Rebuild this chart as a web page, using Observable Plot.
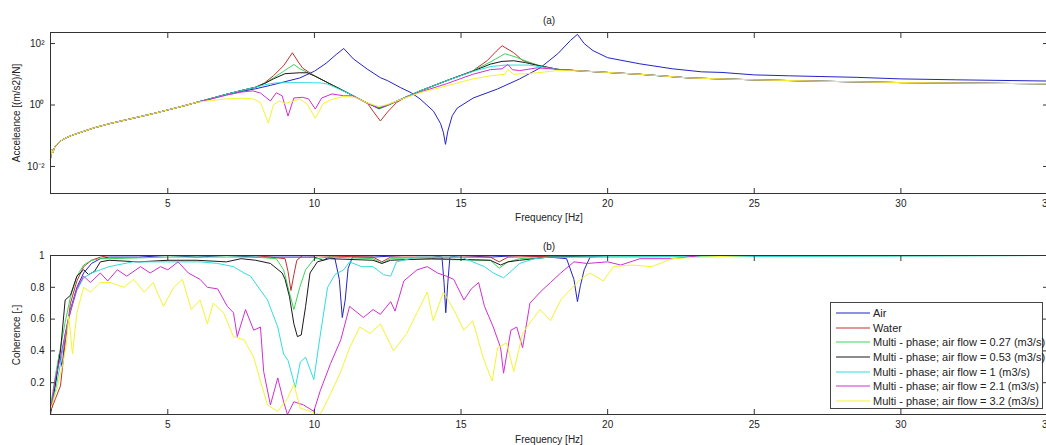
<!DOCTYPE html>
<html><head><meta charset="utf-8">
<script src="https://cdn.jsdelivr.net/npm/d3@7"></script>
<script src="https://cdn.jsdelivr.net/npm/@observablehq/plot@0.6"></script>
<style>
html,body{margin:0;padding:0;background:#fff;overflow:hidden}
#wrap{position:relative;width:1046px;height:445px;overflow:hidden;font-family:"Liberation Sans",Arial,sans-serif}
#top{position:absolute;left:0;top:0;width:1060px}
#bot{position:absolute;left:0;top:232px;width:1060px}
#top svg,#bot svg{max-width:none !important}
#legend{position:absolute;left:830px;top:302px;width:213px;height:107px;border:1px solid #444;background:#fff;font-size:11px;color:#222;box-sizing:border-box;padding-top:3px}
.row{display:flex;align-items:center;height:14.6px;white-space:nowrap}
.row svg{margin-left:5px;margin-right:3px;flex:none}
</style></head>
<body><div id="wrap"><div id="top"></div><div id="bot"></div><div id="legend"></div></div>
<script>
// ---------- series ----------
const seriesNames = ["Air","Water",
  "Multi - phase; air flow = 0.27 (m3/s)",
  "Multi - phase; air flow = 0.53 (m3/s)",
  "Multi - phase; air flow = 1 (m3/s)",
  "Multi - phase; air flow = 2.1 (m3/s)",
  "Multi - phase; air flow = 3.2 (m3/s)"];
const seriesColors = ["#2424c8","#c4302e","#3ad65a","#1a1a1a","#30dede","#d030d0","#f4f430"];

// ---------- x ticks ----------
const xTicks = [5,10,15,20,25,30,35];
// ---------- panel (a): acceleance, values as log10 exponents ----------
const accTickExp = [-2,0,2];
const accTickLabels = ["10\u207B\u00B2","10\u2070","10\u00B2"];
const accLow = [[1,-1.75],[1.04,-1.45],[1.08,-1.55],[1.15,-1.35],[1.25,-1.25],[1.35,-1.17],[1.5,-1.08],[1.75,-0.98],[2,-0.9],[2.5,-0.74],[3,-0.61],[3.5,-0.5],[4,-0.39],[4.5,-0.28],[5,-0.16],[5.5,-0.04],[6,0.09]];
const accTail = [[20,1.06],[21.1,1.0],[22.8,0.88],[25,0.82],[27.5,0.77],[30,0.73],[32.5,0.71],[35,0.69]];
const airAcc = [[6.5,0.21],[7,0.34],[7.5,0.44],[8,0.53],[8.5,0.64],[9,0.76],[9.5,0.88],[10,1.1],[10.4,1.36],[10.75,1.65],[11,1.84],[11.33,1.5],[11.8,1.17],[12.25,0.89],[12.5,0.79],[12.93,0.57],[13.3,0.4],[13.6,0.2],[14.06,-0.2],[14.3,-0.6],[14.4,-0.9],[14.47,-1.28],[14.55,-0.85],[14.7,-0.35],[14.87,-0.1],[15.42,0.23],[16.24,0.52],[17,0.85],[17.7,1.21],[18.3,1.67],[18.73,2.1],[18.97,2.3],[19.2,2.0],[19.5,1.77],[20,1.54],[21.1,1.34],[22.2,1.18],[23.2,1.08],[23.9,1.06],[25,0.98],[26.2,0.95],[28.5,0.9],[30,0.85],[31.9,0.82],[35,0.78]];
const waterAcc = [[6.5,0.22],[7,0.35],[7.5,0.47],[8,0.58],[8.3,0.72],[8.6,0.95],[8.95,1.28],[9.25,1.7],[9.45,1.4],[9.6,1.2],[10,0.95],[10.65,0.63],[11.2,0.36],[11.8,0.07],[12.0,-0.2],[12.25,-0.52],[12.5,-0.22],[12.8,0.08],[13.1,0.25],[13.6,0.45],[14.5,0.79],[15.4,1.11],[15.9,1.45],[16.2,1.75],[16.4,1.93],[16.8,1.7],[17.1,1.45],[17.6,1.3],[18.3,1.16],[19.07,1.11]];
const mp027Acc = [[6.5,0.22],[7,0.35],[7.5,0.47],[8,0.58],[8.3,0.7],[8.6,0.88],[8.95,1.1],[9.3,1.32],[9.5,1.18],[10,0.95],[10.65,0.63],[11.2,0.36],[11.8,0.07],[12.2,-0.13],[12.5,-0.02],[13,0.2],[13.6,0.46],[14.5,0.79],[15.4,1.11],[16,1.4],[16.5,1.67],[16.9,1.55],[17.3,1.4],[17.7,1.27],[18.3,1.16],[19.07,1.11]];
const mp053Acc = [[6.5,0.22],[7,0.35],[7.5,0.47],[8,0.58],[8.3,0.7],[8.6,0.85],[9.0,1.02],[9.5,1.05],[9.75,1.05],[10,0.95],[10.65,0.63],[11.2,0.36],[11.8,0.07],[12.2,-0.11],[12.5,0.0],[13,0.21],[13.6,0.46],[14.5,0.79],[15.4,1.1],[16,1.33],[16.4,1.42],[16.8,1.44],[17.2,1.38],[17.7,1.27],[18.3,1.16],[19.07,1.11]];
const mp1Acc = [[6.5,0.22],[7,0.35],[7.5,0.47],[8,0.58],[8.3,0.66],[8.7,0.72],[9.5,0.73],[10.2,0.72],[10.45,0.68],[10.65,0.6],[11.2,0.36],[11.8,0.07],[12.2,-0.08],[12.5,0.0],[13,0.21],[13.6,0.46],[14.5,0.79],[15.4,1.09],[16,1.25],[16.5,1.3],[16.9,1.3],[17.3,1.3],[17.7,1.25],[18.3,1.16],[19.07,1.11]];
const mp21Acc = [[6.5,0.2],[7,0.32],[7.5,0.42],[7.9,0.46],[8.16,0.39],[8.5,0.13],[8.7,0.4],[8.9,0.3],[9.1,-0.36],[9.3,0.23],[9.6,0.25],[9.8,0.2],[10.03,-0.13],[10.25,0.23],[10.6,0.36],[11.0,0.3],[11.3,0.3],[11.8,0.05],[12.2,-0.1],[12.5,0.0],[13,0.2],[13.6,0.42],[14.5,0.69],[15.4,1.0],[16,1.15],[16.4,1.18],[16.6,1.32],[16.75,1.15],[17,1.12],[17.6,1.21],[18.3,1.16],[19.07,1.11]];
const mp32Acc = [[6.5,0.15],[7,0.2],[7.5,0.22],[7.9,0.2],[8.16,0.08],[8.43,-0.59],[8.6,0.0],[8.8,0.13],[9.0,0.05],[9.3,0.13],[9.5,0.2],[9.75,0.03],[10.03,-0.43],[10.3,0.05],[10.65,0.2],[11.0,0.28],[11.4,0.25],[11.8,0.07],[12.2,-0.05],[12.5,0.02],[13,0.2],[13.6,0.4],[14.5,0.62],[15.4,0.85],[16,0.95],[16.5,1.0],[16.6,1.15],[16.8,1.0],[17.2,1.02],[17.6,1.05],[18.3,1.12],[19.07,1.11]];

// ---------- panel (b): coherence ----------
const cohTicks = [0.2,0.4,0.6,0.8,1];
const cohTickLabels = ["0.2","0.4","0.6","0.8","1"];
const airCoh = [[1,0.05],[1.17,0.2],[1.3,0.38],[1.4,0.3],[1.5,0.5],[1.68,0.66],[1.9,0.8],[2.13,0.89],[2.4,0.95],[2.7,0.98],[3,0.99],[4,0.99],[5,1.0],[6,0.99],[7,1.0],[8,0.99],[9,0.99],[10,0.99],[10.3,0.97],[10.5,0.99],[10.7,0.98],[10.85,0.85],[10.95,0.61],[11.05,0.72],[11.15,0.92],[11.3,0.99],[12,0.99],[13,1.0],[14,1.0],[14.35,0.99],[14.42,0.83],[14.48,0.64],[14.55,0.83],[14.62,0.99],[15,1.0],[16,0.99],[17,1.0],[18,0.99],[18.6,0.98],[18.85,0.85],[18.97,0.71],[19.07,0.81],[19.2,0.91],[19.4,0.99],[20,1.0],[35,1.0]];
const waterCoh = [[1,0.02],[1.17,0.1],[1.34,0.18],[1.5,0.45],[1.68,0.7],[1.9,0.84],[2.13,0.93],[2.4,0.97],[2.7,0.99],[3,1.0],[5,1.0],[7,1.0],[8,1.0],[9.0,0.98],[9.1,0.9],[9.2,0.78],[9.3,0.88],[9.4,0.97],[9.6,1.0],[12,0.99],[12.3,0.96],[12.6,0.99],[16,0.99],[16.3,0.96],[16.6,0.99],[20,1.0],[35,1.0]];
const mp027Coh = [[1,0.05],[1.17,0.25],[1.34,0.42],[1.5,0.58],[1.68,0.74],[1.9,0.87],[2.13,0.94],[2.4,0.97],[2.7,0.98],[3,0.98],[5,0.99],[7,0.99],[8,0.99],[8.7,0.98],[8.95,0.91],[9.1,0.8],[9.3,0.66],[9.5,0.8],[9.7,0.91],[10,0.98],[10.5,0.99],[12,0.98],[12.3,0.95],[12.6,0.98],[16,0.97],[16.3,0.92],[16.6,0.96],[17,0.98],[18,0.99],[35,1.0]];
const mp053Coh = [[1,0.0],[1.17,0.19],[1.34,0.4],[1.5,0.72],[1.68,0.75],[1.9,0.87],[2.13,0.91],[2.3,0.88],[2.5,0.9],[2.7,0.96],[3,0.97],[4,0.96],[5,0.97],[6,0.97],[7,0.96],[7.5,0.98],[8,0.97],[8.5,0.95],[8.9,0.89],[9.0,0.85],[9.15,0.74],[9.3,0.57],[9.42,0.49],[9.55,0.5],[9.7,0.68],[9.85,0.89],[10.1,0.96],[10.5,0.98],[12,0.97],[12.3,0.95],[12.6,0.97],[14,0.98],[16,0.97],[16.35,0.94],[16.6,0.96],[17,0.97],[18,0.99],[20,1.0],[35,1.0]];
const mp1Coh = [[1,0.05],[1.17,0.15],[1.34,0.32],[1.5,0.5],[1.68,0.65],[1.9,0.78],[2.13,0.86],[2.4,0.89],[2.7,0.91],[3,0.93],[3.8,0.96],[5,0.96],[6.1,0.96],[6.7,0.95],[7.24,0.93],[7.6,0.89],[7.82,0.87],[8.4,0.72],[8.75,0.55],[8.95,0.38],[9.1,0.34],[9.35,0.17],[9.52,0.33],[9.7,0.36],[9.98,0.22],[10.2,0.5],[10.45,0.8],[10.7,0.88],[11,0.91],[11.2,0.96],[11.6,0.93],[12,0.93],[12.35,0.88],[12.6,0.87],[12.8,0.96],[13.5,0.99],[15,0.99],[15.8,0.93],[16.1,0.89],[16.45,0.86],[16.7,0.9],[17,0.95],[17.5,0.98],[18,0.99],[35,1.0]];
const mp21Coh = [[1,0.02],[1.17,0.23],[1.34,0.36],[1.57,0.57],[1.9,0.79],[2.13,0.87],[2.36,0.83],[2.7,0.89],[2.95,0.84],[3.28,0.91],[3.6,0.87],[4.07,0.93],[4.4,0.89],[4.75,0.93],[5,0.91],[5.35,0.96],[5.7,0.89],[6.1,0.85],[6.35,0.8],[6.7,0.79],[7.03,0.68],[7.24,0.64],[7.37,0.49],[7.65,0.66],[7.93,0.53],[8.16,0.55],[8.27,0.27],[8.5,0.06],[8.75,0.23],[8.95,0.08],[9.08,0.0],[9.3,0.08],[9.63,0.06],[9.98,0.02],[10.2,0.15],[10.55,0.32],[10.9,0.47],[11.2,0.68],[11.67,0.61],[12.0,0.66],[12.25,0.63],[12.6,0.71],[12.75,0.65],[13.05,0.84],[13.5,0.91],[13.85,0.93],[14.2,0.89],[14.5,0.87],[14.75,0.85],[15.1,0.72],[15.35,0.79],[15.6,0.83],[15.8,0.68],[16.1,0.55],[16.35,0.42],[16.45,0.26],[16.7,0.53],[16.9,0.55],[17.1,0.42],[17.35,0.7],[17.7,0.77],[18.05,0.83],[18.4,0.89],[18.85,0.96],[19.3,0.95],[20,0.96],[20.45,0.94],[21.1,0.98],[22.2,0.98],[23.2,1.0],[35,1.0]];
const mp32Coh = [[1,0.03],[1.2,0.15],[1.4,0.3],[1.55,0.45],[1.62,0.62],[1.75,0.38],[1.9,0.64],[2.13,0.8],[2.36,0.77],[2.7,0.83],[3.05,0.83],[3.5,0.8],[3.83,0.85],[4.2,0.77],[4.5,0.83],[4.85,0.68],[5.2,0.8],[5.5,0.85],[5.8,0.66],[6.1,0.72],[6.35,0.57],[6.55,0.7],[6.9,0.64],[7.24,0.49],[7.6,0.47],[7.93,0.36],[8.16,0.21],[8.4,0.06],[8.75,0.02],[9.08,0.1],[9.3,0.19],[9.52,0.04],[9.85,0.02],[10.2,0.0],[10.55,0.13],[10.9,0.27],[11.2,0.42],[11.55,0.55],[11.9,0.51],[12.25,0.57],[12.7,0.4],[13.15,0.51],[13.5,0.64],[13.85,0.77],[14.05,0.59],[14.4,0.77],[14.75,0.66],[15.1,0.53],[15.4,0.59],[15.75,0.36],[16.06,0.21],[16.25,0.42],[16.55,0.45],[16.8,0.27],[17.1,0.51],[17.4,0.59],[17.7,0.66],[18.05,0.59],[18.4,0.72],[18.75,0.79],[19.07,0.85],[19.4,0.89],[19.85,0.84],[20.2,0.93],[20.8,0.94],[21.5,0.93],[22.2,0.98],[23.2,0.99],[25,1.0],[35,1.0]];

// ---------- build tables ----------
const accSeries = [
  [...accLow, ...airAcc],
  [...accLow, ...waterAcc, ...accTail],
  [...accLow, ...mp027Acc, ...accTail],
  [...accLow, ...mp053Acc, ...accTail],
  [...accLow, ...mp1Acc, ...accTail],
  [...accLow, ...mp21Acc, ...accTail],
  [...accLow, ...mp32Acc, ...accTail]];
const cohSeries = [airCoh, waterCoh, mp027Coh, mp053Coh, mp1Coh, mp21Coh, mp32Coh];
const accRows = seriesNames.flatMap((n,i) => accSeries[i].map(([f,e]) => ({name:n, f, v: Math.pow(10,e)})));
const cohRows = seriesNames.flatMap((n,i) => cohSeries[i].map(([f,c]) => ({name:n, f, v:c})));

const font = {fontFamily:"'Liberation Sans', Arial, sans-serif", fontSize:"10px", color:"#222", background:"transparent", overflow:"visible", maxWidth:"none"};
const color = {domain: seriesNames, range: seriesColors};

const accTickVals = accTickExp.map(e => Math.pow(10,e));
const topPlot = Plot.plot({
  width:1060, height:232, marginLeft:50, marginRight:13, marginTop:32, marginBottom:39,
  style: font,
  x:{domain:[1,35]},
  y:{type:"log", domain:[Math.pow(10,-2.88), Math.pow(10,2.36)]},
  color,
  marks:[
    Plot.line(accRows, {x:"f", y:"v", z:"name", stroke:"name", strokeWidth:1}),
    Plot.frame({stroke:"#333"}),
    Plot.axisX({ticks:xTicks, tickSize:-5, tickPadding:11, stroke:"#333", label:"Frequency [Hz]", labelAnchor:"center", labelArrow:"none", labelOffset:27}),
    Plot.axisX({anchor:"top", ticks:xTicks, tickSize:-5, stroke:"#333", tickFormat:()=>"", label:null}),
    Plot.axisY({ticks:accTickVals, tickSize:-5, tickPadding:11, stroke:"#333", tickFormat:(d)=>accTickLabels[accTickVals.indexOf(d)], label:"Acceleance [(m/s2)/N]", labelAnchor:"center", labelArrow:"none", labelOffset:38}),
    Plot.axisY({anchor:"right", ticks:accTickVals, tickSize:-5, stroke:"#333", tickFormat:()=>"", label:null}),
    Plot.text(["(a)"], {frameAnchor:"top", dy:-16, fill:"#222"})
  ]
});
document.getElementById("top").append(topPlot);

const botPlot = Plot.plot({
  width:1060, height:213, marginLeft:50, marginRight:13, marginTop:23, marginBottom:31,
  style: font,
  x:{domain:[1,35]},
  y:{domain:[0,1]},
  color,
  marks:[
    Plot.line(cohRows, {x:"f", y:"v", z:"name", stroke:"name", strokeWidth:1}),
    Plot.frame({stroke:"#333"}),
    Plot.axisX({ticks:xTicks, tickSize:-5, tickPadding:11, stroke:"#333", label:"Frequency [Hz]", labelAnchor:"center", labelArrow:"none", labelOffset:28}),
    Plot.axisX({anchor:"top", ticks:xTicks, tickSize:-5, stroke:"#333", tickFormat:()=>"", label:null}),
    Plot.axisY({ticks:cohTicks, tickSize:-5, tickPadding:11, stroke:"#333", tickFormat:(d)=>cohTickLabels[cohTicks.indexOf(d)], label:"Coherence [-]", labelAnchor:"center", labelArrow:"none", labelOffset:38}),
    Plot.axisY({anchor:"right", ticks:cohTicks, tickSize:-5, stroke:"#333", tickFormat:()=>"", label:null}),
    Plot.text(["(b)"], {frameAnchor:"top", dy:-13, fill:"#222"})
  ]
});
document.getElementById("bot").append(botPlot);

const legend = document.getElementById("legend");
const svgNS = "http://www.w3.org/2000/svg";
seriesNames.forEach((n,i) => {
  const row = document.createElement("div"); row.className = "row";
  const sw = document.createElementNS(svgNS, "svg");
  sw.setAttribute("width", "34"); sw.setAttribute("height", "4");
  const ln = document.createElementNS(svgNS, "line");
  ln.setAttribute("x1","0"); ln.setAttribute("x2","34"); ln.setAttribute("y1","2"); ln.setAttribute("y2","2");
  ln.setAttribute("stroke", seriesColors[i]); ln.setAttribute("stroke-width","1.2");
  sw.append(ln);
  const t = document.createElement("span"); t.textContent = n;
  row.append(sw, t); legend.append(row);
});
</script></body></html>
